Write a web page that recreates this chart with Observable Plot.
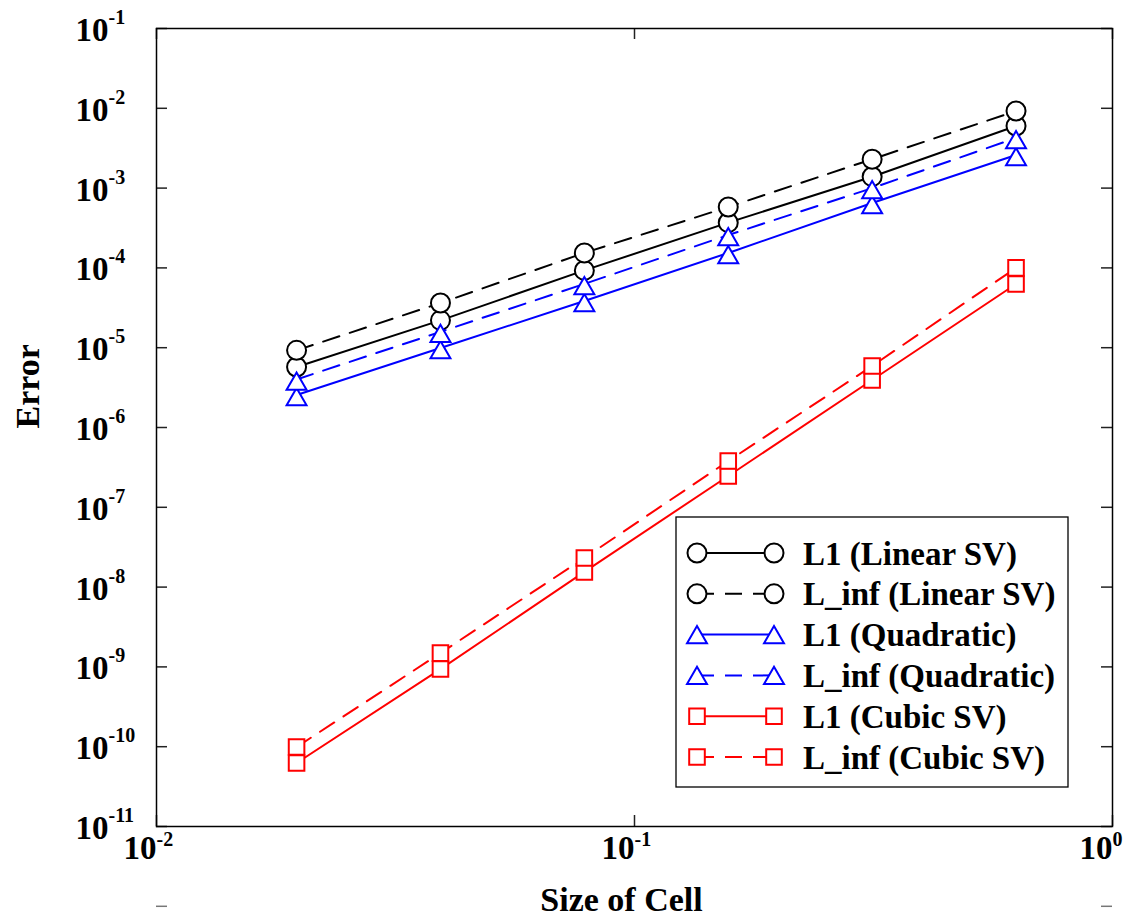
<!DOCTYPE html>
<html><head><meta charset="utf-8">
<script src="https://cdn.jsdelivr.net/npm/d3@7"></script>
<script src="https://cdn.jsdelivr.net/npm/@observablehq/plot@0.6"></script>
<style>body{margin:0;background:#fff;}</style>
</head><body><div id="chart"></div>
<script>
// ---- data ----
const cellSize = [0.019635, 0.03927, 0.07854, 0.15708, 0.31416, 0.62832];
const l1Linear   = [5.73e-6, 2.2e-5, 9.3e-5, 3.69e-4, 1.39e-3, 6.0e-3];
const linfLinear = [9.27e-6, 3.63e-5, 1.54e-4, 5.8e-4, 2.3e-3, 9.25e-3];
const l1Quad     = [2.55e-6, 9.9e-6, 3.85e-5, 1.54e-4, 6.5e-4, 2.6e-3];
const linfQuad   = [4.0e-6, 1.58e-5, 6.3e-5, 2.58e-4, 1.0e-3, 4.25e-3];
const l1Cubic    = [6.25e-11, 9.4e-10, 1.55e-8, 2.47e-7, 3.94e-6, 6.28e-5];
const linfCubic  = [9.9e-11, 1.49e-9, 2.32e-8, 3.8e-7, 5.9e-6, 1.0e-4];
const seriesNames = ["L1 (Linear SV)", "L_inf (Linear SV)", "L1 (Quadratic)", "L_inf (Quadratic)", "L1 (Cubic SV)", "L_inf (Cubic SV)"];
const seriesValues = [l1Linear, linfLinear, l1Quad, linfQuad, l1Cubic, linfCubic];
const xTicks = [1e-2, 1e-1, 1];
const yTicks = [1e-11, 1e-10, 1e-9, 1e-8, 1e-7, 1e-6, 1e-5, 1e-4, 1e-3, 1e-2, 1e-1];
const yTicksBelow = [1e-12];
const xLabel = "Size of Cell";
const yLabel = "Error";

// ---- styles ----
const seriesColors = ["black", "black", "#0000ff", "#0000ff", "#ff0000", "#ff0000"];
const seriesDashed = [false, true, false, true, false, true];
const seriesSymbols = ["circle", "circle", "triangle", "triangle", "square", "square"];
const symbolR = {circle: 9.5, triangle: 7.4, square: 8.8};
const symbolDy = {circle: 0, triangle: 4.5, square: 0};
const DASH = "17,11";
const FONT = "Liberation Serif, Times New Roman, serif";

const W = 1137, H = 916;
const mL = 156, mR = 25, mT = 28, mB = 90;
const fw = W - mL - mR, fh = H - mT - mB, TL = 11;

const marks = [];
seriesValues.forEach((vals, i) => {
  const data = cellSize.map((x, j) => ({x, y: vals[j]}));
  marks.push(Plot.line(data, {x: "x", y: "y", stroke: seriesColors[i], strokeWidth: 2,
    strokeDasharray: seriesDashed[i] ? DASH : null}));
  const s = seriesSymbols[i];
  marks.push(Plot.dot(data, {x: "x", y: "y", symbol: s, r: symbolR[s], dy: symbolDy[s],
    stroke: seriesColors[i], fill: "white", strokeWidth: 2}));
});

// ticks (inward)
marks.push(Plot.tickY(yTicks, {y: d => d, insetRight: fw - TL, stroke: "#222", strokeWidth: 1.5}));
marks.push(Plot.tickY(yTicks, {y: d => d, insetLeft: fw - TL, stroke: "#222", strokeWidth: 1.5}));
marks.push(Plot.tickY(yTicksBelow, {y: d => d, insetRight: fw - TL, stroke: "#777", strokeWidth: 1.5}));
marks.push(Plot.tickY(yTicksBelow, {y: d => d, insetLeft: fw - TL, stroke: "#777", strokeWidth: 1.5}));
marks.push(Plot.tickX(xTicks, {x: d => d, insetTop: fh - TL, stroke: "#222", strokeWidth: 1.5}));
marks.push(Plot.tickX(xTicks, {x: d => d, insetBottom: fh - TL, stroke: "#222", strokeWidth: 1.5}));
marks.push(Plot.frame({stroke: "black", strokeWidth: 1.5}));

// tick labels
const tl = {fontFamily: FONT, fontWeight: "bold", fill: "black"};
marks.push(Plot.text(yTicks, {...tl, y: d => d, frameAnchor: "left", dx: -48, dy: 2, textAnchor: "end", text: () => "10", fontSize: 33}));
marks.push(Plot.text(yTicks, {...tl, y: d => d, frameAnchor: "left", dx: -48, dy: -11, textAnchor: "start", text: d => String(Math.round(Math.log10(d))), fontSize: 20}));
marks.push(Plot.text(xTicks, {...tl, x: d => d, frameAnchor: "bottom", dx: 0, dy: 32, textAnchor: "end", text: () => "10", fontSize: 33}));
marks.push(Plot.text(xTicks, {...tl, x: d => d, frameAnchor: "bottom", dx: 0, dy: 19, textAnchor: "start", text: d => String(Math.round(Math.log10(d))), fontSize: 20}));
// axis titles
marks.push(Plot.text([yLabel], {...tl, frameAnchor: "left", dx: -128, dy: 1, rotate: -90, text: d => d, fontSize: 34}));
marks.push(Plot.text([xLabel], {...tl, frameAnchor: "bottom", dx: -13, dy: 84, text: d => d, fontSize: 34}));

const plot = Plot.plot({
  width: W, height: H,
  marginLeft: mL, marginRight: mR, marginTop: mT, marginBottom: mB,
  x: {type: "log", domain: [1e-2, 1], axis: null},
  y: {type: "log", domain: [1e-11, 1e-1], axis: null},
  style: {background: "white", fontFamily: FONT},
  marks
});

// legend
const svg = d3.select(plot);
const lg = svg.append("g").attr("text-anchor", "start");
lg.append("rect").attr("x", 676).attr("y", 517).attr("width", 392).attr("height", 270)
  .attr("fill", "white").attr("stroke", "black").attr("stroke-width", 1.3);
seriesNames.forEach((name, i) => {
  const cy = 553 + i * 40.8;
  const x1 = 697, x2 = 774;
  lg.append("line").attr("x1", x1).attr("x2", x2).attr("y1", cy).attr("y2", cy)
    .attr("stroke", seriesColors[i]).attr("stroke-width", 2)
    .attr("stroke-dasharray", seriesDashed[i] ? DASH : null);
  const s = seriesSymbols[i];
  const r = symbolR[s];
  for (const cx of [x1, x2]) {
    if (s === "circle") {
      lg.append("circle").attr("cx", cx).attr("cy", cy).attr("r", r)
        .attr("fill", "white").attr("stroke", seriesColors[i]).attr("stroke-width", 2);
    } else {
      const sym = s === "triangle" ? d3.symbolTriangle : d3.symbolSquare;
      lg.append("path").attr("transform", `translate(${cx},${cy + (s === "triangle" ? 2.8 : 0)})`)
        .attr("d", d3.symbol(sym, r * r * Math.PI)())
        .attr("fill", "white").attr("stroke", seriesColors[i]).attr("stroke-width", 2);
    }
  }
  lg.append("text").attr("x", 803).attr("y", cy).attr("dy", "0.35em")
    .attr("text-anchor", "start")
    .attr("font-family", FONT).attr("font-weight", "bold").attr("font-size", 33)
    .attr("fill", "black").text(name);
});

document.getElementById("chart").appendChild(plot);
</script>
</body></html>
